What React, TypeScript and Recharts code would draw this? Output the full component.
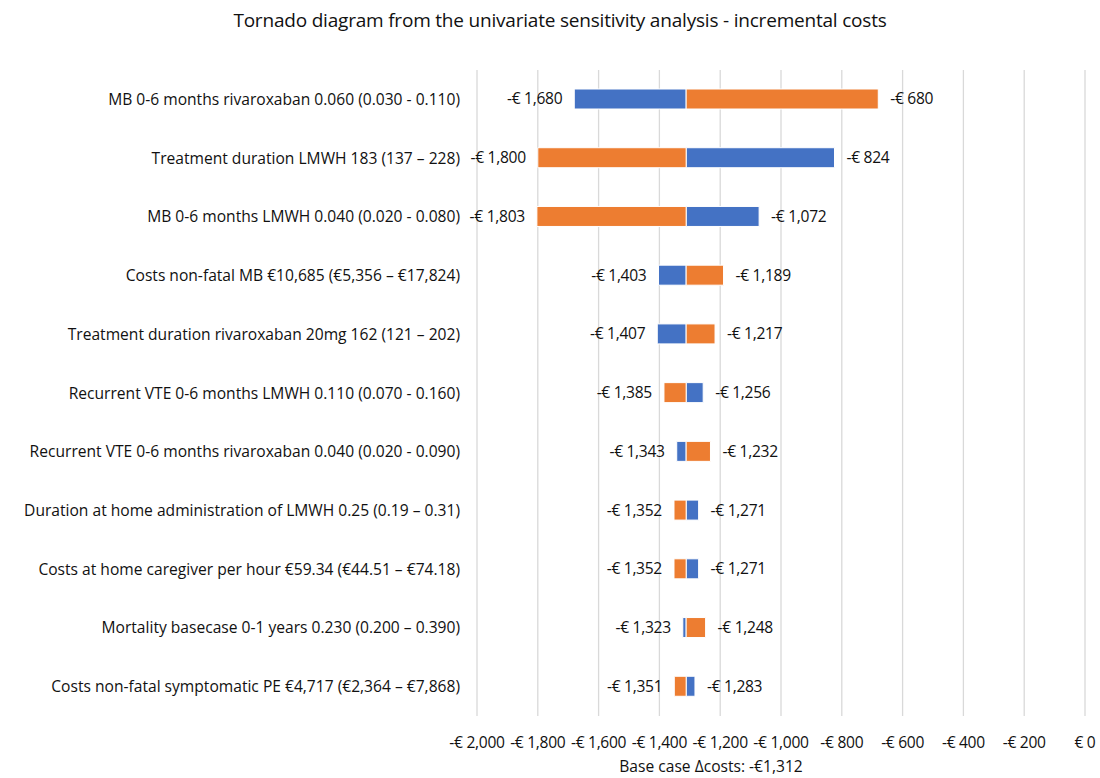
import React from "react";
import { BarChart, Bar, XAxis, YAxis, CartesianGrid, LabelList } from "recharts";

const BASE = -1312;

const parameters = [
  "MB 0-6 months rivaroxaban 0.060 (0.030 - 0.110)",
  "Treatment duration LMWH 183 (137 \u2013 228)",
  "MB 0-6 months LMWH 0.040 (0.020 - 0.080)",
  "Costs non-fatal MB \u20ac10,685 (\u20ac5,356 \u2013 \u20ac17,824)",
  "Treatment duration rivaroxaban 20mg 162 (121 \u2013 202)",
  "Recurrent VTE 0-6 months LMWH 0.110 (0.070 - 0.160)",
  "Recurrent VTE 0-6 months rivaroxaban 0.040 (0.020 - 0.090)",
  "Duration at home administration of LMWH 0.25 (0.19 \u2013 0.31)",
  "Costs at home caregiver per hour \u20ac59.34 (\u20ac44.51 \u2013 \u20ac74.18)",
  "Mortality basecase 0-1 years 0.230 (0.200 \u2013 0.390)",
  "Costs non-fatal symptomatic PE \u20ac4,717 (\u20ac2,364 \u2013 \u20ac7,868)",
];

const blueValues = [-1680, -824, -1072, -1403, -1407, -1256, -1343, -1271, -1271, -1323, -1283];
const orangeValues = [-680, -1800, -1803, -1189, -1217, -1385, -1232, -1352, -1352, -1248, -1351];

const xTicks = [-2000, -1800, -1600, -1400, -1200, -1000, -800, -600, -400, -200, 0];

const data = parameters.map((name, i) => ({
  name,
  blue: blueValues[i],
  orange: orangeValues[i],
  blueRange: [BASE, blueValues[i]],
  orangeRange: [BASE, orangeValues[i]],
}));

const FONT = "'Open Sans', sans-serif";
const FS = 15.6;

const fmtEuro = (v: number) => {
  if (v === 0) return "\u20ac 0";
  const s = Math.abs(v).toLocaleString("en-US");
  return (v < 0 ? "-\u20ac " : "\u20ac ") + s;
};

const ValueLabel = (props: any) => {
  const { x, y, width, height, value } = props;
  const xa = Number(x);
  const wa = Number(width);
  const left = Math.min(xa, xa + wa);
  const right = Math.max(xa, xa + wa);
  const cy = Number(y) + Number(height) / 2;
  const isLeft = value < BASE;
  return (
    <text
      x={isLeft ? left - 12 : right + 12}
      y={cy}
      dy="0.35em"
      textAnchor={isLeft ? "end" : "start"}
      fontSize={FS}
      fontFamily={FONT}
      letterSpacing={-0.3}
      fill="#111"
    >
      {fmtEuro(value)}
    </text>
  );
};

export default function App() {
  return (
    <div style={{ position: "absolute", left: 0, top: 0, width: 1100, height: 778, background: "#fff" }}>
      <div
        style={{
          position: "absolute",
          left: 0,
          top: 8,
          width: 1120,
          textAlign: "center",
          fontFamily: FONT,
          fontSize: 19,
          letterSpacing: -0.2,
          color: "#111",
          lineHeight: "24px",
        }}
      >
        Tornado diagram from the univariate sensitivity analysis - incremental costs
      </div>
      <BarChart
        width={1100}
        height={778}
        data={data}
        layout="vertical"
        margin={{ top: 70, right: 15, bottom: 32, left: 0 }}
        barSize={20}
      >
        <CartesianGrid horizontal={false} stroke="#d9d9d9" strokeWidth={1.3} />
        <XAxis
          type="number"
          domain={[-2000, 0]}
          ticks={xTicks}
          tickFormatter={fmtEuro}
          axisLine={false}
          tickLine={false}
          tickSize={0}
          tickMargin={21}
          height={30}
          interval={0}
          tick={{ fontSize: FS, fontFamily: FONT, fill: "#111", letterSpacing: -0.3 }}
          allowDataOverflow
        />
        <YAxis
          yAxisId="a"
          type="category"
          dataKey="name"
          width={477}
          axisLine={false}
          tickLine={false}
          tickSize={0}
          tickMargin={17}
          interval={0}
          tick={{ fontSize: FS, fontFamily: FONT, fill: "#111" }}
        />
        <YAxis yAxisId="b" type="category" dataKey="name" hide />
        <Bar yAxisId="a" dataKey="blueRange" fill="#4472C4" stroke="#fff" strokeWidth={1} isAnimationActive={false}>
          <LabelList dataKey="blue" content={ValueLabel} />
        </Bar>
        <Bar yAxisId="b" dataKey="orangeRange" fill="#ED7D31" stroke="#fff" strokeWidth={1} isAnimationActive={false}>
          <LabelList dataKey="orange" content={ValueLabel} />
        </Bar>
      </BarChart>
      <div
        style={{
          position: "absolute",
          left: 611,
          top: 756,
          width: 200,
          textAlign: "center",
          fontFamily: FONT,
          fontSize: FS,
          color: "#111",
          lineHeight: "20px",
        }}
      >
        Base case {"\u0394"}costs: -{"\u20ac"}1,312
      </div>
    </div>
  );
}
